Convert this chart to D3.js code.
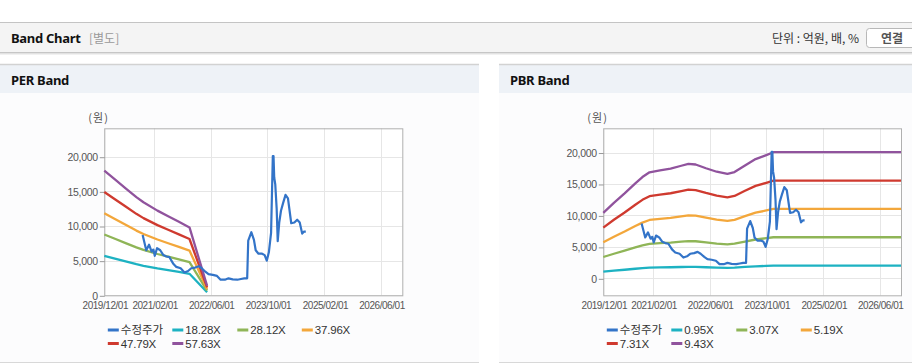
<!DOCTYPE html>
<html><head><meta charset="utf-8">
<script src="https://cdn.jsdelivr.net/npm/d3@7"></script>
<style>
body{margin:0;background:#fff;}
svg{display:block;}
text{font-family:"Liberation Sans","Noto Sans CJK KR",sans-serif;}
</style></head><body>
<svg id="c" width="912" height="364"></svg>
<script>
// ---------- data ----------
const xTickDates = ["2019-12-01","2021-02-01","2022-06-01","2023-10-01","2025-02-01","2026-06-01"];
const xTickLabels = ["2019/12/01","2021/02/01","2022/06/01","2023/10/01","2025/02/01","2026/06/01"];
const yTicks = [0,5000,10000,15000,20000];

const priceDates = ["2020-10-25","2020-11-25","2020-12-19","2021-01-10","2021-01-25","2021-02-06","2021-02-26","2021-03-25","2021-04-21","2021-05-16","2021-06-12","2021-07-13","2021-08-10","2021-09-16","2021-10-19","2021-11-19","2021-12-16","2022-01-19","2022-02-18","2022-03-16","2022-04-16","2022-05-13","2022-06-19","2022-07-25","2022-08-25","2022-10-01","2022-11-01","2022-12-07","2023-01-16","2023-02-15","2023-03-16","2023-04-10","2023-04-19","2023-05-16","2023-06-07","2023-06-22","2023-07-16","2023-08-16","2023-09-07","2023-09-25","2023-10-13","2023-11-01","2023-11-16","2023-11-22","2023-11-28","2023-12-07","2023-12-19","2023-12-28","2024-01-10","2024-01-25","2024-02-12","2024-03-04","2024-03-25","2024-04-22","2024-05-19","2024-06-12","2024-07-04","2024-07-25","2024-08-10","2024-08-25"];
const priceValues = [8700,6500,7300,6300,6600,5700,6800,6500,5800,5600,5500,4600,4100,3900,3300,3500,3900,4000,4200,3900,3400,3050,2950,2800,2250,2250,2450,2300,2250,2350,2450,2450,7900,9100,8000,6500,6000,6000,5800,5000,6200,9000,20100,20100,17000,16000,12500,7800,10500,12200,13300,14500,14000,10400,10500,10900,10500,8900,9200,9200];

const perBandDates = ["2019-12-01","2020-03-01","2020-06-01","2020-09-01","2020-11-01","2021-03-01","2021-06-01","2021-09-01","2021-12-01","2022-05-01"];
const per1828 = [5703,5301,4899,4497,4259,3875,3619,3364,3108,439];
const per2812 = [8773,8155,7536,6918,6552,5961,5568,5174,4780,675];
const per3796 = [11844,11008,10173,9338,8845,8048,7516,6985,6453,911];
const per4779 = [14910,13859,12808,11756,11135,10131,9462,8793,8124,1147];
const per5763 = [17981,16713,15445,14177,13428,12218,11411,10604,9797,1383];

const pbrBandDates = ["2019-12-01","2020-03-01","2020-06-01","2020-09-01","2020-11-01","2021-01-01","2021-04-01","2021-07-01","2021-10-01","2021-12-01","2022-02-01","2022-05-01","2022-08-01","2022-11-01","2023-01-01","2023-04-01","2023-07-01","2023-10-01","2023-12-01","2026-12-01"];
const pbr095 = [1048,1209,1360,1521,1622,1698,1728,1758,1803,1834,1823,1763,1707,1672,1702,1808,1910,1974,2020,2020];
const pbr307 = [3386,3908,4396,4915,5240,5486,5584,5680,5827,5925,5891,5698,5517,5403,5501,5842,6171,6379,6527,6527];
const pbr519 = [5725,6607,7432,8309,8859,9275,9441,9602,9851,10017,9960,9633,9326,9134,9300,9877,10432,10785,11034,11034];
const pbr731 = [8063,9306,10468,11703,12478,13063,13297,13524,13874,14108,14028,13567,13136,12866,13100,13911,14693,15190,15541,15541];
const pbr943 = [10401,12004,13504,15097,16097,16851,17153,17446,17898,18200,18096,17502,16946,16597,16899,17945,18954,19596,20048,20048];

const perLegend = ["수정주가","18.28X","28.12X","37.96X","47.79X","57.63X"];
const pbrLegend = ["수정주가","0.95X","3.07X","5.19X","7.31X","9.43X"];
const seriesColors = ["#3374c8","#1db2c2","#8fb557","#f3a73b","#cf3a2f","#90539d"];

// ---------- drawing ----------
const svg = d3.select("#c");
const P = d3.timeParse("%Y-%m-%d");

// top header
svg.append("rect").attr("x",0).attr("y",22).attr("width",912).attr("height",31).attr("fill","#f4f4f4");
svg.append("line").attr("x1",0).attr("x2",912).attr("y1",22.5).attr("y2",22.5).attr("stroke","#c4c4c4");
svg.append("line").attr("x1",0).attr("x2",912).attr("y1",52.5).attr("y2",52.5).attr("stroke","#c6c6c6");
svg.append("line").attr("x1",0).attr("x2",912).attr("y1",53.5).attr("y2",53.5).attr("stroke","#e2e2e2");
svg.append("line").attr("x1",0).attr("x2",912).attr("y1",54.5).attr("y2",54.5).attr("stroke","#f1f1f1");
svg.append("text").attr("x",11).attr("y",43).attr("font-size",13).attr("font-weight","bold").attr("fill","#111")
  .style("font-family","'Noto Sans','Noto Sans CJK KR',sans-serif").style("letter-spacing","-0.3px").text("Band Chart");
svg.append("text").attr("x",89).attr("y",43).attr("font-size",12).attr("fill","#999")
  .style("font-family","'Noto Sans CJK KR',sans-serif").text("[별도]");
svg.append("text").attr("x",859).attr("y",43).attr("font-size",12).attr("fill","#333").attr("text-anchor","end")
  .style("font-family","'Noto Sans CJK KR',sans-serif").text("단위 : 억원, 배, %");
svg.append("rect").attr("x",866.5).attr("y",28.5).attr("width",60).attr("height",19).attr("rx",3)
  .attr("fill","#fff").attr("stroke","#b8b8b8");
svg.append("text").attr("x",892).attr("y",42.5).attr("font-size",12).attr("font-weight","bold").attr("fill","#555")
  .attr("text-anchor","middle").style("font-family","'Noto Sans CJK KR',sans-serif").text("연결");

function drawPanel(cfg){
  const g = svg.append("g");
  // panel background & header
  g.append("rect").attr("x",cfg.px).attr("y",64).attr("width",cfg.pw).attr("height",299).attr("fill","#fcfcfd");
  g.append("rect").attr("x",cfg.px).attr("y",64).attr("width",cfg.pw).attr("height",29).attr("fill","#eef2f7");
  g.append("line").attr("x1",cfg.px).attr("x2",cfg.px+cfg.pw).attr("y1",64.5).attr("y2",64.5).attr("stroke","#d2d2d2").attr("stroke-width",1.5);
  g.append("line").attr("x1",cfg.px).attr("x2",cfg.px+cfg.pw).attr("y1",362.5).attr("y2",362.5).attr("stroke","#d8d8d8");
  g.append("text").attr("x",cfg.px+11).attr("y",85).attr("font-size",13).attr("font-weight","bold").attr("fill","#111")
    .style("font-family","'Noto Sans','Noto Sans CJK KR',sans-serif").style("letter-spacing","-0.3px").text(cfg.title);

  const x = d3.scaleTime().domain([P("2019-12-01"),P("2026-12-01")]).range([cfg.l,cfg.r]);
  const y = d3.scaleLinear().domain(cfg.yDomain).range([cfg.b,cfg.t]);

  g.append("rect").attr("x",cfg.l).attr("y",cfg.t).attr("width",cfg.r-cfg.l).attr("height",cfg.b-cfg.t).attr("fill","#fff");
  // grid
  const xt = xTickDates.map(P);
  g.append("g").selectAll("line").data(xt).join("line")
    .attr("x1",d=>Math.round(x(d))+0.5).attr("x2",d=>Math.round(x(d))+0.5)
    .attr("y1",cfg.t).attr("y2",cfg.b).attr("stroke","#e6e6e6");
  g.append("g").selectAll("line").data(yTicks).join("line")
    .attr("y1",d=>Math.round(y(d))+0.5).attr("y2",d=>Math.round(y(d))+0.5)
    .attr("x1",cfg.l).attr("x2",cfg.r).attr("stroke","#e6e6e6");
  // frame
  g.append("rect").attr("x",cfg.l+0.5).attr("y",cfg.t+0.5).attr("width",cfg.r-cfg.l).attr("height",cfg.b-cfg.t)
    .attr("fill","none").attr("stroke","#b0b0b0");

  // y axis
  const ya = d3.axisLeft(y).tickValues(yTicks).tickFormat(d3.format(",")).tickSize(5).tickPadding(2);
  const yg = g.append("g").attr("transform",`translate(${cfg.l+0.5},0.5)`).call(ya);
  yg.select(".domain").remove();
  yg.selectAll("line").attr("stroke","#999");
  yg.selectAll("text").attr("font-size",10.5).attr("fill","#555").style("letter-spacing","-0.3px");
  // x axis
  const xa = d3.axisBottom(x).tickValues(xt).tickFormat((d,i)=>xTickLabels[i]).tickSize(0).tickPadding(7);
  const xg = g.append("g").attr("transform",`translate(0.5,${cfg.b})`).call(xa);
  xg.select(".domain").remove();
  xg.selectAll("text").attr("font-size",10).attr("fill","#555").style("letter-spacing","-0.45px");

  g.append("text").attr("x",cfg.l-16).attr("y",122).attr("font-size",11).attr("fill","#555")
    .style("font-family","'Noto Sans CJK KR',sans-serif").style("letter-spacing","1px").text("(원)");

  const line = d3.line().x(d=>x(d[0])).y(d=>y(d[1])).curve(d3.curveLinear);
  const bd = cfg.bandDates.map(P);
  cfg.bands.forEach((vals,i)=>{
    g.append("path").attr("d",line(vals.map((v,j)=>[bd[j],v])))
      .attr("fill","none").attr("stroke",seriesColors[i+1]).attr("stroke-width",2.3).attr("stroke-linejoin","round");
  });
  const pd = priceDates.map(P);
  g.append("path").attr("d",line(priceValues.map((v,j)=>[pd[j],v])))
    .attr("fill","none").attr("stroke",seriesColors[0]).attr("stroke-width",2.2).attr("stroke-linejoin","round");

  // legend
  const colX = [3.5,68,133,197.5];
  cfg.legend.forEach((name,i)=>{
    const cx = cfg.l + colX[i%4];
    const cy = i<4 ? 330 : 343.5;
    g.append("line").attr("x1",cx).attr("x2",cx+11).attr("y1",cy).attr("y2",cy)
      .attr("stroke",seriesColors[i]).attr("stroke-width",3);
    g.append("text").attr("x",cx+13).attr("y",cy).attr("dy","0.36em").attr("font-size",i===0?11.5:11.5)
      .attr("fill","#333").style("letter-spacing", i===0?"0px":"-0.2px")
      .style("font-family", i===0?"'Noto Sans CJK KR',sans-serif":"'Liberation Sans',sans-serif").text(name);
  });
}

drawPanel({title:"PER Band",px:0,pw:479,l:104.3,r:402.3,t:128.3,b:295.3,yDomain:[0,24100],
  bandDates:perBandDates,bands:[per1828,per2812,per3796,per4779,per5763],legend:perLegend});
drawPanel({title:"PBR Band",px:499,pw:413,l:603.3,r:901,t:128.3,b:295.3,yDomain:[-2700,23850],
  bandDates:pbrBandDates,bands:[pbr095,pbr307,pbr519,pbr731,pbr943],legend:pbrLegend});
</script>
</body></html>
